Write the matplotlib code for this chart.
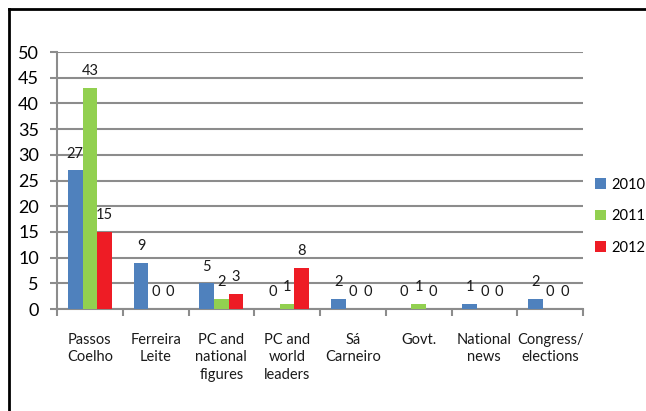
import matplotlib
matplotlib.use("Agg")
import matplotlib.pyplot as plt
import numpy as np
from matplotlib.lines import Line2D

categories = ["Passos\nCoelho", "Ferreira\nLeite", "PC and\nnational\nfigures", "PC and\nworld\nleaders",
              "Sá\nCarneiro", "Govt.", "National\nnews", "Congress/\nelections"]
series_names = ["2010", "2011", "2012"]
v2010 = [27, 9, 5, 0, 2, 0, 1, 2]
v2011 = [43, 0, 2, 1, 0, 1, 0, 0]
v2012 = [15, 0, 3, 8, 0, 0, 0, 0]
colors = ["#4F81BD", "#92D050", "#EE1C25"]
yticks = [0, 5, 10, 15, 20, 25, 30, 35, 40, 45, 50]

plt.rcParams['font.family'] = ['Lato', 'DejaVu Sans']

fig = plt.figure(figsize=(6.46, 4.11), dpi=100)
ax = fig.add_axes([57/646, 1-309/411, (583-57)/646, (309-52)/411])

x = np.arange(len(categories)) + 0.5
w = 0.222
for i, (vals, c, name) in enumerate(zip([v2010, v2011, v2012], colors, series_names)):
    xs = x + (i - 1) * w
    bars = ax.bar(xs, vals, width=w, color=c, label=name, zorder=3)
    for xi, v in zip(xs, vals):
        ax.annotate(str(v), (xi, v), xytext=(0, 12), textcoords='offset points',
                    ha='center', va='center', fontsize=10.5, color='#1a1a1a', zorder=4)

ax.set_xlim(0, len(categories))
ax.set_ylim(0, 50)
ax.set_yticks(yticks)
ax.set_yticklabels([str(t) for t in yticks], fontsize=13)
ax.yaxis.grid(True, color='#8c8c8c', linewidth=1.5, zorder=0)
ax.set_axisbelow(True)

ax.set_xticks(np.arange(len(categories) + 1))
ax.set_xticklabels([])
ax.tick_params(axis='x', direction='out', length=5, color='#8c8c8c', width=1.5)
ax.tick_params(axis='y', direction='out', length=5, color='#8c8c8c', width=1.5, pad=8)
for xi, lab in zip(x, categories):
    ax.annotate(lab, (xi, 0), xycoords=('data', 'axes fraction'), xytext=(0, -17),
                textcoords='offset points', ha='center', va='top', fontsize=10.5,
                linespacing=1.35, color='#1a1a1a')

for s in ['top', 'right']:
    ax.spines[s].set_visible(False)
for s in ['left', 'bottom']:
    ax.spines[s].set_color('#8c8c8c')
    ax.spines[s].set_linewidth(1.5)

leg = ax.legend(loc='center left', bbox_to_anchor=(595/646, 1-216/411), bbox_transform=fig.transFigure,
                frameon=False, fontsize=10.5, handlelength=0.75, handleheight=0.75,
                handletextpad=0.35, labelspacing=1.2, borderpad=0, borderaxespad=0)

fig.add_artist(Line2D([9/646, 9/646], [0, 1-9/411], transform=fig.transFigure, color='black', lw=2))
fig.add_artist(Line2D([9/646, 1], [1-9/411, 1-9/411], transform=fig.transFigure, color='black', lw=2))

fig.savefig("out.png", dpi=100)
